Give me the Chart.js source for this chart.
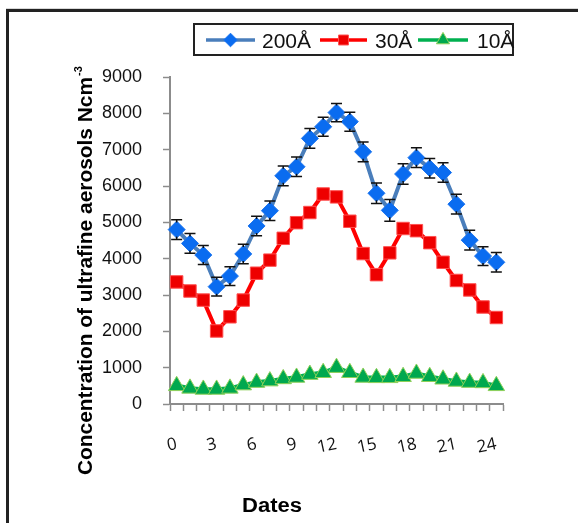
<!DOCTYPE html>
<html>
<head>
<meta charset="utf-8">
<script src="https://cdn.jsdelivr.net/npm/chart.js@4/dist/chart.umd.min.js"></script>
<style>
  html, body { margin: 0; padding: 0; background: #fff; }
  canvas { display: block; }
</style>
</head>
<body>
<canvas id="chart" width="578" height="523"></canvas>
<script>
// Day index along the horizontal axis
const dates = ['0','1','2','3','4','5','6','7','8','9','10','11','12',
               '13','14','15','16','17','18','19','20','21','22','23','24'];
// Days that carry a printed label
const labelledDates = ['0','3','6','9','12','15','18','21','24'];

// Number concentration per particle size
const series200 = [4800, 4420, 4100, 3230, 3520, 4130, 4900, 5320, 6280, 6530, 7310, 7630, 8020,
                   7770, 6940, 5800, 5330, 6330, 6780, 6490, 6370, 5500, 4510, 4070, 3900];
const series30  = [3360, 3110, 2860, 2010, 2400, 2860, 3600, 3960, 4560, 4990, 5270, 5780, 5700,
                   5030, 4140, 3560, 4160, 4830, 4770, 4440, 3900, 3400, 3140, 2670, 2380];
const series10  = [500, 430, 400, 400, 430, 520, 590, 630, 690, 730, 810, 860, 1000,
                   860, 730, 720, 720, 750, 840, 750, 680, 620, 590, 580, 500];
// Spread shown around the 200 Å series
const error200  = [270, 270, 260, 260, 260, 270, 270, 270, 270, 270, 270, 260, 250,
                   260, 270, 280, 300, 280, 270, 270, 270, 270, 270, 260, 270];

const seriesNames = ['200Å', '30Å', '10Å'];
const yTickValues = [0, 1000, 2000, 3000, 4000, 5000, 6000, 7000, 8000, 9000];
const yTitleText = 'Concentration of ultrafine aerosols Ncm';
const yTitleSup = '-3';
const xTitleText = 'Dates';

const SANS = "'Liberation Sans', Arial, sans-serif";
const H = Chart.helpers;

// White page with a heavy rule along the top and left edges
const framePlugin = {
  id: 'frame',
  beforeDraw(chart) {
    const c = chart.ctx;
    c.save();
    c.fillStyle = '#fff';
    c.fillRect(0, 0, chart.width, chart.height);
    c.fillStyle = '#d8d8d8';
    c.fillRect(6, 8, chart.width - 6, 1);
    c.fillStyle = '#222';
    c.fillRect(6, 9, chart.width - 6, 3);
    c.fillRect(6, 9, 3, chart.height - 9);
    c.restore();
  }
};

// Whiskers with caps above and below each 200 Å point
const errorBarPlugin = {
  id: 'errorBars',
  afterDatasetsDraw(chart) {
    const meta = chart.getDatasetMeta(0);
    const y = chart.scales.y;
    const c = chart.ctx;
    c.save();
    c.strokeStyle = '#111';
    c.lineWidth = 1.5;
    meta.data.forEach((pt, i) => {
      const v = series200[i], e = error200[i];
      const yTop = y.getPixelForValue(v + e);
      const yBot = y.getPixelForValue(v - e);
      const r = 7;
      c.beginPath();
      if (yTop < pt.y - r) { c.moveTo(pt.x, pt.y - r); c.lineTo(pt.x, yTop); }
      if (yBot > pt.y + r) { c.moveTo(pt.x, pt.y + r); c.lineTo(pt.x, yBot); }
      c.moveTo(pt.x - 5.5, yTop); c.lineTo(pt.x + 5.5, yTop);
      c.moveTo(pt.x - 5.5, yBot); c.lineTo(pt.x + 5.5, yBot);
      c.stroke();
    });
    c.restore();
  }
};

// Boxed legend row and the two axis titles
const annotationPlugin = {
  id: 'annotations',
  afterDraw(chart) {
    const c = chart.ctx;
    c.save();

    // legend box
    c.strokeStyle = '#222';
    c.lineWidth = 2;
    c.strokeRect(194, 24, 319, 31);

    const items = [
      { ds: chart.data.datasets[0], x0: 206, x1: 255, tx: 262 },
      { ds: chart.data.datasets[1], x0: 320, x1: 367, tx: 375 },
      { ds: chart.data.datasets[2], x0: 418, x1: 468, tx: 477 }
    ];
    const ly = 40;
    items.forEach(it => {
      c.strokeStyle = it.ds.borderColor;
      c.lineWidth = 3.5;
      c.beginPath();
      c.moveTo(it.x0, ly); c.lineTo(it.x1, ly);
      c.stroke();
      c.fillStyle = it.ds.pointBackgroundColor;
      c.strokeStyle = it.ds.pointBorderColor;
      c.lineWidth = 1;
      H.drawPoint(c, { pointStyle: it.ds.pointStyle, radius: it.ds.pointRadius * 0.8, rotation: 0, borderWidth: 1 },
                  (it.x0 + it.x1) / 2, ly);
      c.fillStyle = '#111';
      c.font = '21px ' + SANS;
      c.textAlign = 'left';
      c.textBaseline = 'alphabetic';
      c.fillText(it.ds.label, it.tx, 48);
    });

    // vertical axis title, bold and tightly set
    c.save();
    c.translate(92, 475);
    c.rotate(-Math.PI / 2);
    c.fillStyle = '#000';
    c.font = 'bold 20px ' + SANS;
    const w = c.measureText(yTitleText).width;
    const target = 398;
    c.save();
    c.scale(target / w, 1);
    c.textAlign = 'left';
    c.textBaseline = 'alphabetic';
    c.fillText(yTitleText, 0, 0);
    c.restore();
    c.font = 'bold 11px ' + SANS;
    c.fillText(yTitleSup, target + 1, -10);
    c.restore();

    // horizontal axis title
    c.fillStyle = '#000';
    c.font = 'bold 20px ' + SANS;
    const wx = c.measureText(xTitleText).width;
    c.save();
    c.translate(272, 512);
    c.scale(60 / wx, 1);
    c.textAlign = 'center';
    c.textBaseline = 'alphabetic';
    c.fillText(xTitleText, 0, 0);
    c.restore();

    c.restore();
  }
};

new Chart(document.getElementById('chart'), {
  type: 'line',
  data: {
    labels: dates,
    datasets: [
      {
        label: seriesNames[0],
        data: series200,
        borderColor: '#4a7ebb',
        borderWidth: 4,
        pointStyle: 'rectRot',
        pointRadius: 8.5,
        pointBackgroundColor: '#0a6cf0',
        pointBorderColor: '#1a74f0',
        pointBorderWidth: 1,
        tension: 0,
        fill: false
      },
      {
        label: seriesNames[1],
        data: series30,
        borderColor: '#ff0000',
        borderWidth: 4,
        pointStyle: 'rect',
        pointRadius: 8.8,
        pointBackgroundColor: '#ee0000',
        pointBorderColor: '#ff5050',
        pointBorderWidth: 1,
        tension: 0,
        fill: false
      },
      {
        label: seriesNames[2],
        data: series10,
        borderColor: '#00b050',
        borderWidth: 4.5,
        pointStyle: 'triangle',
        pointRadius: 9.5,
        pointBackgroundColor: '#00a84f',
        pointBorderColor: '#8fd05a',
        pointBorderWidth: 1,
        tension: 0,
        fill: false
      }
    ]
  },
  options: {
    responsive: false,
    animation: false,
    devicePixelRatio: 1,
    layout: { padding: { left: 70, right: 75, top: 77, bottom: 59 } },
    plugins: {
      legend: { display: false },
      tooltip: { enabled: false }
    },
    scales: {
      x: {
        type: 'category',
        offset: true,
        grid: {
          offset: true,
          drawOnChartArea: false,
          drawTicks: true,
          tickLength: 7,
          tickColor: '#8c8c8c',
          tickWidth: 1.5
        },
        border: { color: '#8c8c8c', width: 2 },
        ticks: {
          autoSkip: false,
          minRotation: 12,
          maxRotation: 12,
          padding: 23,
          color: '#111',
          font: { family: "'Open Sans', 'DejaVu Sans', sans-serif", size: 17 },
          callback(value, index) {
            const lab = this.getLabelForValue(value);
            return labelledDates.includes(lab) ? lab : '';
          }
        },
        afterFit(scale) { scale.height = 60; }
      },
      y: {
        min: yTickValues[0],
        max: yTickValues[yTickValues.length - 1],
        afterBuildTicks(scale) { scale.ticks = yTickValues.map(v => ({ value: v })); },
        grid: {
          drawOnChartArea: false,
          drawTicks: true,
          tickLength: 7,
          tickColor: '#8c8c8c',
          tickWidth: 1.5
        },
        border: { color: '#8c8c8c', width: 2 },
        ticks: {
          padding: 21,
          color: '#111',
          font: { family: SANS, size: 18 },
          callback(value) { return String(value); }
        },
        afterFit(scale) { scale.width = 100; }
      }
    }
  },
  plugins: [framePlugin, errorBarPlugin, annotationPlugin]
});
</script>
</body>
</html>
